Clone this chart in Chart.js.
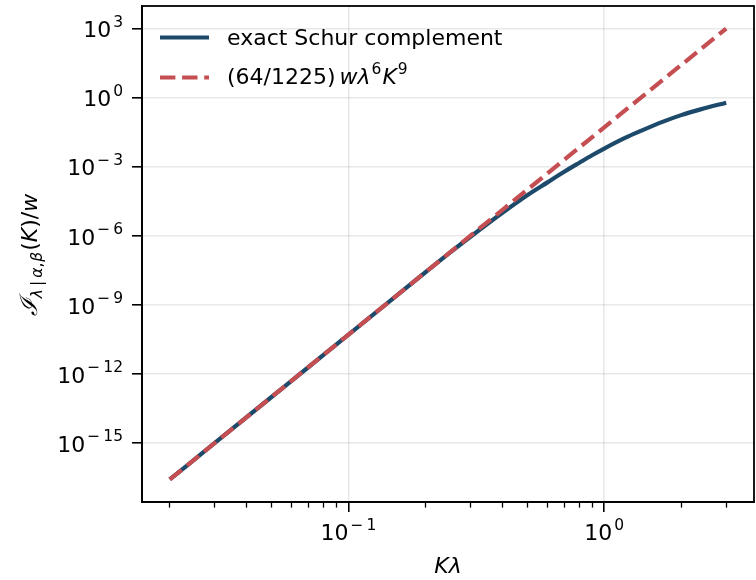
<!DOCTYPE html>
<html><head><meta charset="utf-8">
<script src="https://cdn.jsdelivr.net/npm/chart.js@4.4.1/dist/chart.umd.min.js"></script>
<style>html,body{margin:0;padding:0;background:#fff;}#wrap{width:756px;height:580px;}</style>
</head><body><div id="wrap"><canvas id="c" width="756" height="580"></canvas></div>
<script>
// ---- data ----
const kLambda    = [0.02, 0.03, 0.05, 0.07, 0.1, 0.15, 0.2, 0.25, 0.3, 0.4, 0.5, 0.6, 0.7, 0.8, 0.9, 1.0, 1.2, 1.4, 1.7, 2.0, 2.4, 3.0];
const exactSchur = [2.67e-17, 1.03e-15, 1.02e-13, 2.10e-12, 5.22e-11, 2.01e-9, 2.67e-8, 1.95e-7, 9.3e-7, 1.02e-5, 5.9e-5, 2.14e-4, 6.3e-4, 1.53e-3, 3.3e-3, 6.3e-3, 0.0178, 0.038, 0.093, 0.178, 0.324, 0.617];
const approxK9   = [2.675e-17, 1.028e-15, 1.020e-13, 2.108e-12, 5.224e-11, 2.008e-9, 2.675e-8, 1.993e-7, 1.028e-6, 1.369e-5, 1.020e-4, 5.265e-4, 2.108e-3, 7.012e-3, 2.024e-2, 5.224e-2, 0.2696, 1.079, 6.195, 26.75, 138.0, 1028.3];
const seriesNames = ['exact Schur complement', '(64/1225) wλ⁶K⁹'];
const xTickValues = [0.1, 1];
const xTickExponents = ['−1', '0'];
const xMinorValues = [0.02,0.03,0.04,0.05,0.06,0.07,0.08,0.09,0.2,0.3,0.4,0.5,0.6,0.7,0.8,0.9,2,3];
const yTickValues = [1e3, 1e0, 1e-3, 1e-6, 1e-9, 1e-12, 1e-15];
const yTickExponents = ['3', '0', '−3', '−6', '−9', '−12', '−15'];
const xMin = 0.015572, xMax = 3.8533;
const yMin = 2.806e-18, yMax = 9.77e3;

const FONT = 'DejaVu Sans';
const solidColor = '#1d4a6a';
const dashColor = '#c44e52';
const N = '22px "' + FONT + '"', IT = 'italic 22px "' + FONT + '"', SUP = '15.5px "' + FONT + '"', SUPIT = 'italic 15.5px "' + FONT + '"';

const framePlugin = {
  id: 'frame',
  afterDatasetsDraw(chart) {
    const {ctx, chartArea: a} = chart;
    ctx.save();
    ctx.strokeStyle = '#000';
    ctx.lineWidth = 1.8;
    ctx.strokeRect(a.left, a.top, a.right - a.left, a.bottom - a.top);
    ctx.restore();
  }
};

function drawSegments(ctx, segs, x, y) {
  let cx = x;
  for (const s of segs) {
    ctx.font = s.font;
    ctx.fillText(s.t, cx, y + (s.dy || 0));
    cx += ctx.measureText(s.t).width + (s.after || 0);
  }
  return cx;
}
function segWidth(ctx, segs) {
  let w = 0;
  for (const s of segs) { ctx.font = s.font; w += ctx.measureText(s.t).width + (s.after || 0); }
  return w;
}
function powSegs(exp) {
  const segs = [{t: '10', font: N, after: 2}];
  if (exp[0] === '−') {
    segs.push({t: '−', font: SUP, dy: -10.5, after: 3});
    segs.push({t: exp.slice(1), font: SUP, dy: -10.5});
  } else segs.push({t: exp, font: SUP, dy: -10.5});
  return segs;
}

const annotPlugin = {
  id: 'annot',
  afterDraw(chart) {
    const ctx = chart.ctx;
    const ds = chart.data.datasets;
    ctx.save();
    ctx.fillStyle = '#000';
    ctx.textBaseline = 'alphabetic';
    ctx.textAlign = 'left';
    // tick labels
    const xs = chart.scales.x, ys = chart.scales.y;
    xTickValues.forEach((v, i) => {
      const segs = powSegs(xTickExponents[i]);
      const w = segWidth(ctx, segs);
      drawSegments(ctx, segs, xs.getPixelForValue(v) - w / 2, 540);
    });
    yTickValues.forEach((v, i) => {
      const segs = powSegs(yTickExponents[i]);
      const w = segWidth(ctx, segs);
      drawSegments(ctx, segs, 123 - w, ys.getPixelForValue(v) + 8.5);
    });
    // legend
    const lx0 = 160, lx1 = 209, tx = 227;
    const rows = [37.5, 77.5];
    [...ds].sort((a, b) => a.legendRank - b.legendRank).forEach((d, i) => {
      ctx.save();
      ctx.strokeStyle = d.borderColor;
      ctx.lineWidth = d.borderWidth;
      ctx.lineCap = 'butt';
      ctx.setLineDash(d.borderDash || []);
      ctx.beginPath();
      ctx.moveTo(lx0, rows[i]);
      ctx.lineTo(lx1, rows[i]);
      ctx.stroke();
      ctx.restore();
    });
    drawSegments(ctx, [{t: seriesNames[0], font: N}], tx, 45);
    drawSegments(ctx, [
      {t: '(64/1225)', font: N, after: 4},
      {t: 'wλ', font: IT, after: 1},
      {t: '6', font: SUP, dy: -10, after: 1},
      {t: 'K', font: IT, after: 1},
      {t: '9', font: SUP, dy: -10}
    ], tx, 84);
    // y axis label (rotated)
    const ysegs = [
      {t: 'ℐ', font: 'italic 24px "DejaVu Serif"', after: 0},
      {t: 'λ', font: SUPIT, dy: 5, after: 3},
      {t: '|', font: SUP, dy: 5, after: 3},
      {t: 'α', font: SUPIT, dy: 5},
      {t: ',', font: SUP, dy: 5, after: 1},
      {t: 'β', font: SUPIT, dy: 5, after: 1},
      {t: '(', font: N},
      {t: 'K', font: IT},
      {t: ')/', font: N},
      {t: 'w', font: IT}
    ];
    ctx.translate(37, 255);
    ctx.rotate(-Math.PI / 2);
    const w = segWidth(ctx, ysegs);
    drawSegments(ctx, ysegs, -w / 2, 0);
    ctx.restore();
  }
};

const chart = new Chart(document.getElementById('c'), {
  type: 'line',
  data: {
    datasets: [
      {label: seriesNames[0], legendRank: 0, order: 1, data: kLambda.map((x, i) => ({x, y: exactSchur[i]})),
       borderColor: solidColor, borderWidth: 4.2, pointRadius: 0, fill: false, cubicInterpolationMode: 'monotone'},
      {label: seriesNames[1], legendRank: 1, order: 0, data: kLambda.map((x, i) => ({x, y: approxK9[i]})),
       borderColor: dashColor, borderWidth: 4.2, borderDash: [15.4, 6.7], pointRadius: 0, fill: false, tension: 0}
    ]
  },
  options: {
    responsive: false, animation: false, devicePixelRatio: 1,
    layout: {padding: {left: 0, right: 2, top: 6, bottom: 0}},
    plugins: {legend: {display: false}, tooltip: {enabled: false}},
    scales: {
      xMinor: {
        type: 'logarithmic', position: 'bottom', weight: -1, min: xMin, max: xMax,
        afterBuildTicks: s => { s.ticks = xMinorValues.map(v => ({value: v})); },
        ticks: {display: false},
        grid: {drawOnChartArea: false, tickLength: 5.6, tickWidth: 1.3, tickColor: '#000'},
        border: {display: false},
        afterFit: s => { s.height = 0; s.paddingLeft = 0; s.paddingRight = 0; }
      },
      x: {
        type: 'logarithmic', position: 'bottom', weight: 0, min: xMin, max: xMax,
        afterBuildTicks: s => { s.ticks = xTickValues.map(v => ({value: v})); },
        ticks: {display: false},
        grid: {color: 'rgba(0,0,0,0.09)', lineWidth: 1.6, tickColor: '#000', tickLength: 10, tickWidth: 1.6},
        border: {color: '#000', width: 1.8},
        title: {display: true, text: 'Kλ', font: {family: FONT, size: 22, style: 'italic'}, color: '#000', padding: {top: 0, bottom: 0}},
        afterFit: s => { s.height = 78; s.paddingLeft = 0; s.paddingRight = 0; }
      },
      y: {
        type: 'logarithmic', position: 'left', min: yMin, max: yMax,
        afterBuildTicks: s => { s.ticks = yTickValues.map(v => ({value: v})); },
        ticks: {display: false},
        grid: {color: 'rgba(0,0,0,0.09)', lineWidth: 1.6, tickColor: '#000', tickLength: 10, tickWidth: 1.6},
        border: {color: '#000', width: 1.8},
        afterFit: s => { s.width = 142; s.paddingTop = 0; s.paddingBottom = 0; }
      }
    }
  },
  plugins: [framePlugin, annotPlugin]
});
</script></body></html>
